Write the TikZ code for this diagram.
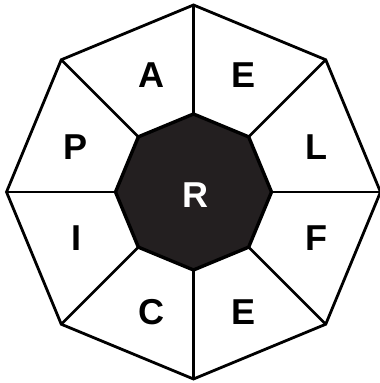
\documentclass[tikz,border=0pt]{standalone}
\usepackage{fontspec}
\setmainfont{Liberation Sans}
\usetikzlibrary{calc}
\definecolor{coreclr}{RGB}{35,31,32}
\begin{document}
\begin{tikzpicture}[x=1pt,y=1pt,
  edge/.style={line width=2.8pt, line join=miter},
  core/.style={line width=3.4pt, fill=coreclr, draw=black, line join=miter},
  lab/.style={font=\fontsize{36}{36}\selectfont\bfseries, inner sep=0pt}]
\useasboundingbox (0,0) rectangle (380,383);
\coordinate (c) at (193.5,191);
\foreach \k in {0,...,7} {
  \coordinate (o\k) at ($(c)+({90-45*\k}:187)$);
  \coordinate (i\k) at ($(c)+({90-45*\k}:78)$);
}
\draw[edge] (o0)--(o1)--(o2)--(o3)--(o4)--(o5)--(o6)--(o7)--cycle;
\foreach \k in {0,...,7} { \draw[edge] (i\k)--(o\k); }
\draw[core] (i0)--(i1)--(i2)--(i3)--(i4)--(i5)--(i6)--(i7)--cycle;
\node[lab] (A) at (151,308) {A};
\node[lab] (E1) at (244,308) {E};
\node[lab] (P) at (76,236) {P};
\node[lab] (L) at (316,236) {L};
\node[lab] (I) at (76,145) {I};
\node[lab] (F) at (316,145) {F};
\node[lab] (C) at (151,71) {C};
\node[lab] (E2) at (244,71) {E};
\node[lab, text=white] (R) at (195,188) {R};
\end{tikzpicture}
\end{document}
